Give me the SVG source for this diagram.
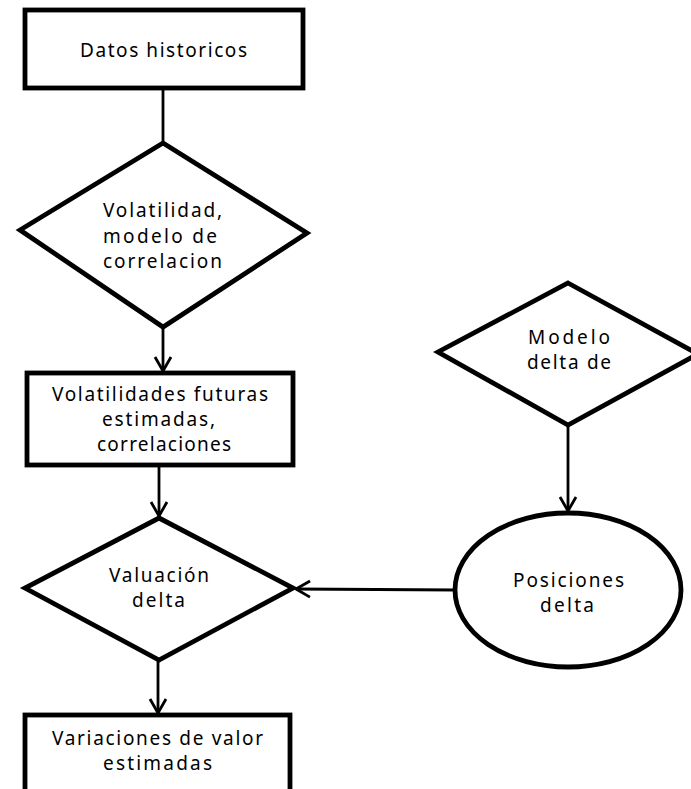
<svg xmlns="http://www.w3.org/2000/svg" width="691" height="789" viewBox="0 0 691 789">
<style>
.shape{fill:#fff;stroke:#000;stroke-width:4.8;stroke-linejoin:miter}
.conn{fill:none;stroke:#000;stroke-width:2.8}
text{font-family:"Noto Sans","Open Sans","DejaVu Sans",sans-serif;font-size:19px;fill:#000;text-anchor:middle}
</style>
<defs>
<marker id="arr" viewBox="0 0 20 20" refX="18" refY="10" markerWidth="20" markerHeight="20" markerUnits="userSpaceOnUse" orient="auto">
<path d="M4,2 L18,10 L4,18" fill="none" stroke="#000" stroke-width="2.8"/>
</marker>
</defs>
<rect width="691" height="789" fill="#fff"/>
<g id="connectors">
<line class="conn" x1="163" y1="88" x2="163" y2="143"/>
<line class="conn" x1="163" y1="327" x2="163" y2="371" marker-end="url(#arr)"/>
<line class="conn" x1="159" y1="465" x2="159" y2="516" marker-end="url(#arr)"/>
<line class="conn" x1="158" y1="660" x2="158" y2="713" marker-end="url(#arr)"/>
<line class="conn" x1="568" y1="425" x2="568" y2="511" marker-end="url(#arr)"/>
<line class="conn" x1="455" y1="590" x2="296" y2="589" marker-end="url(#arr)"/>
</g>
<g id="datos">
<rect class="shape" x="25" y="10" width="278" height="78"/>
<text x="163.5" y="57" textLength="167" lengthAdjust="spacing">Datos historicos</text>
</g>
<g id="volatilidad">
<polygon class="shape" points="163,143 307,233 163,327 20,230"/>
<text x="162.5" y="217" textLength="119" lengthAdjust="spacing">Volatilidad,</text>
<text x="160" y="243" textLength="114" lengthAdjust="spacing">modelo de</text>
<text x="162.5" y="268" textLength="119" lengthAdjust="spacing">correlacion</text>
</g>
<g id="futuras">
<rect class="shape" x="27" y="373" width="266" height="92"/>
<text x="160" y="401" textLength="216" lengthAdjust="spacing">Volatilidades futuras</text>
<text x="158.5" y="426" textLength="113" lengthAdjust="spacing">estimadas,</text>
<text x="164" y="451" textLength="134" lengthAdjust="spacing">correlaciones</text>
</g>
<g id="valuacion">
<polygon class="shape" points="159,518 293,588 159,660 25,588"/>
<text x="159" y="582" textLength="100" lengthAdjust="spacing">Valuación</text>
<text x="158.5" y="607" textLength="53" lengthAdjust="spacing">delta</text>
</g>
<g id="variaciones">
<rect class="shape" x="25" y="715" width="265" height="90"/>
<text x="157.5" y="745" textLength="211" lengthAdjust="spacing">Variaciones de valor</text>
<text x="157.5" y="770" textLength="109" lengthAdjust="spacing">estimadas</text>
</g>
<g id="modelo-delta">
<polygon class="shape" points="568,283 698,354 568,425 438,352"/>
<text x="569" y="344" textLength="82" lengthAdjust="spacing">Modelo</text>
<text x="569" y="369" textLength="84" lengthAdjust="spacing">delta de</text>
</g>
<g id="posiciones">
<ellipse class="shape" cx="568" cy="590" rx="113" ry="77"/>
<text x="568.5" y="587" textLength="111" lengthAdjust="spacing">Posiciones</text>
<text x="567" y="612" textLength="54" lengthAdjust="spacing">delta</text>
</g>
</svg>
